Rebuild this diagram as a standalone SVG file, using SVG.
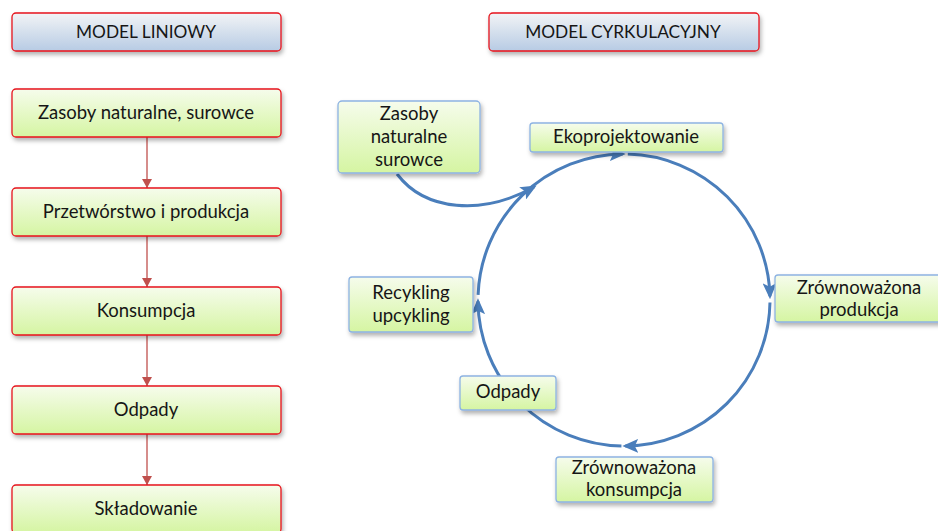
<svg xmlns="http://www.w3.org/2000/svg" width="938" height="531" viewBox="0 0 938 531">
<defs>
<linearGradient id="gGreen" x1="0" y1="0" x2="0" y2="1">
<stop offset="0" stop-color="#F6FCEC"/>
<stop offset="1" stop-color="#D5F5A2"/>
</linearGradient>
<linearGradient id="gBlue" x1="0" y1="0" x2="0" y2="1">
<stop offset="0" stop-color="#F2F4F6"/>
<stop offset="1" stop-color="#B7CBE4"/>
</linearGradient>
<filter id="sh" x="-10%" y="-20%" width="125%" height="160%">
<feDropShadow dx="1.5" dy="3" stdDeviation="2" flood-color="#000" flood-opacity="0.3"/>
</filter>
<marker id="mRed" markerUnits="userSpaceOnUse" markerWidth="10" markerHeight="10" refX="9" refY="5" orient="auto">
<path d="M0,0 L9,5 L0,10 Z" fill="#C0504D"/>
</marker>
<marker id="mBlue" markerUnits="userSpaceOnUse" markerWidth="16" markerHeight="14" refX="13" refY="7" orient="auto">
<path d="M0,0 L16,7 L0,14 L3.5,7 Z" fill="#4A7EBB"/>
</marker>
</defs>
<style>
.red{fill:url(#gGreen);stroke:#E6151D;stroke-width:1.3;filter:url(#sh)}
.hdr{fill:url(#gBlue);stroke:#E6151D;stroke-width:1.3;filter:url(#sh)}
.blu{fill:url(#gGreen);stroke:#8DB3E2;stroke-width:1.3;filter:url(#sh)}
text{font-family:Lato,"Liberation Sans",sans-serif;font-size:18.5px;fill:#161616;text-anchor:middle}
text.h{font-size:17.3px}
.rc{stroke:#C0504D;stroke-width:1.3;fill:none;marker-end:url(#mRed)}
.bc{stroke:#4A7EBB;stroke-width:3;fill:none;marker-end:url(#mBlue)}
</style>

<g id="connectors">
<line class="rc" x1="147" y1="137" x2="147" y2="188"/>
<line class="rc" x1="147" y1="236" x2="147" y2="287"/>
<line class="rc" x1="147" y1="335" x2="147" y2="386"/>
<line class="rc" x1="147" y1="434" x2="147" y2="485"/>
<path class="bc" d="M478.1,294.9 A146,146 0 0 1 622.7,154.0"/>
<path class="bc" d="M627.8,154.05 A146,146 0 0 1 769.95,296.2"/>
<path class="bc" d="M769.98,302.5 A146,146 0 0 1 625.3,446.0"/>
<path class="bc" d="M621.45,446.0 A146,146 0 0 1 478.0,301.3"/>
<path class="bc" d="M397,174 C425,211 482,216 534,187"/>
</g>

<g id="hdr-linear"><rect class="hdr" x="12" y="13" width="269" height="38" rx="4"/><text class="h" x="146" y="38">MODEL LINIOWY</text></g>
<g id="hdr-circular"><rect class="hdr" x="489" y="13" width="270" height="38" rx="4"/><text class="h" x="623" y="38">MODEL CYRKULACYJNY</text></g>

<g id="l1"><rect class="red" x="12" y="89" width="269" height="48" rx="4"/><text x="146" y="119">Zasoby naturalne, surowce</text></g>
<g id="l2"><rect class="red" x="12" y="188" width="269" height="48" rx="4"/><text x="146" y="218">Przetwórstwo i produkcja</text></g>
<g id="l3"><rect class="red" x="12" y="287" width="269" height="48" rx="4"/><text x="146" y="317">Konsumpcja</text></g>
<g id="l4"><rect class="red" x="12" y="386" width="269" height="48" rx="4"/><text x="146" y="416">Odpady</text></g>
<g id="l5"><rect class="red" x="12" y="485" width="269" height="48" rx="4"/><text x="146" y="515">Składowanie</text></g>

<g id="c-zasoby"><rect class="blu" x="338" y="101" width="142" height="72" rx="4"/><text x="409" y="120">Zasoby</text><text x="409" y="143">naturalne</text><text x="409" y="166">surowce</text></g>
<g id="c-eko"><rect class="blu" x="530" y="123" width="193" height="29" rx="3"/><text x="626" y="143">Ekoprojektowanie</text></g>
<g id="c-prod"><rect class="blu" x="775" y="275" width="170" height="47" rx="3"/><text x="859" y="294">Zrównoważona</text><text x="859" y="316">produkcja</text></g>
<g id="c-kons"><rect class="blu" x="556" y="457" width="157" height="45" rx="3"/><text x="634" y="474">Zrównoważona</text><text x="634" y="496">konsumpcja</text></g>
<g id="c-odpady"><rect class="blu" x="460" y="376" width="96" height="34" rx="3"/><text x="508" y="398">Odpady</text></g>
<g id="c-recykling"><rect class="blu" x="349" y="277" width="124" height="55" rx="3"/><text x="411" y="299">Recykling</text><text x="411" y="322">upcykling</text></g>
</svg>
